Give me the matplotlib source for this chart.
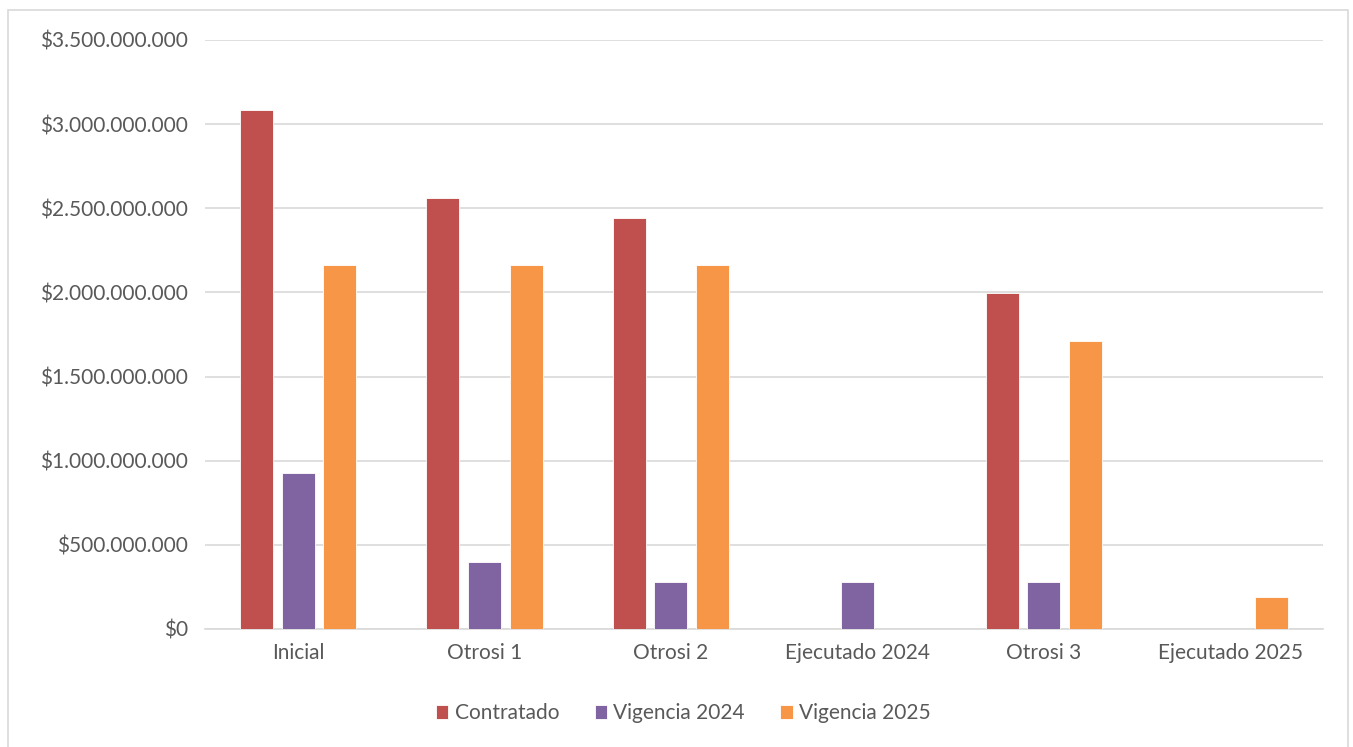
import numpy as np
import matplotlib
matplotlib.use('Agg')
import matplotlib.pyplot as plt
from matplotlib.ticker import FuncFormatter, MultipleLocator
from matplotlib.patches import Rectangle

matplotlib.rcParams['font.family'] = ['Lato', 'DejaVu Sans']

categories = ['Inicial', 'Otrosi 1', 'Otrosi 2', 'Ejecutado 2024', 'Otrosi 3', 'Ejecutado 2025']
series_names = ['Contratado', 'Vigencia 2024', 'Vigencia 2025']
contratado = [3085e6, 2560e6, 2440e6, 0, 1995e6, 0]
vigencia_2024 = [924e6, 400e6, 280e6, 280e6, 280e6, 0]
vigencia_2025 = [2160e6, 2160e6, 2160e6, 0, 1710e6, 190e6]
colors = ['#C0504D', '#8064A2', '#F79646']

text_color = '#595959'

fig = plt.figure(figsize=(13.53, 7.47), dpi=100)
ax = fig.add_axes([0.1515, 0.158, 0.8265, 0.7885])

x = np.arange(len(categories))
width = 0.177
offset = 0.223
for i, (vals, name, c) in enumerate(zip([contratado, vigencia_2024, vigencia_2025], series_names, colors)):
    ax.bar(x + (i - 1) * offset, vals, width, color=c, label=name,
           edgecolor='white', linewidth=0.6, zorder=3)

ax.set_xlim(-0.5, len(categories) - 0.5)
ax.set_ylim(0, 3.5e9)
ax.yaxis.set_major_locator(MultipleLocator(5e8))


def fmt(v, pos):
    return '$' + f'{int(round(v)):,}'.replace(',', '.')


ax.yaxis.set_major_formatter(FuncFormatter(fmt))
ax.grid(axis='y', color='#D9D9D9', linewidth=1.2, zorder=0)
for s in ['top', 'right', 'left']:
    ax.spines[s].set_visible(False)
ax.spines['bottom'].set_color('#D9D9D9')
ax.spines['bottom'].set_linewidth(1.2)
ax.tick_params(axis='both', length=0, labelsize=15, colors=text_color)
ax.tick_params(axis='y', pad=12)
ax.tick_params(axis='x', pad=10)
ax.set_xticks(x)
ax.set_xticklabels(categories)

leg = fig.legend(loc='center', bbox_to_anchor=(0.505, 0.045), ncol=3, frameon=False,
                 fontsize=15, handlelength=0.6, handleheight=0.6, handletextpad=0.3,
                 columnspacing=1.7)
for t in leg.get_texts():
    t.set_color(text_color)

fig.patches.append(Rectangle((0.006, -0.01), 0.99, 0.997, transform=fig.transFigure,
                             fill=False, edgecolor='#D9D9D9', linewidth=1.2))

fig.savefig('out.png', dpi=100, facecolor='white')
plt.close(fig)
